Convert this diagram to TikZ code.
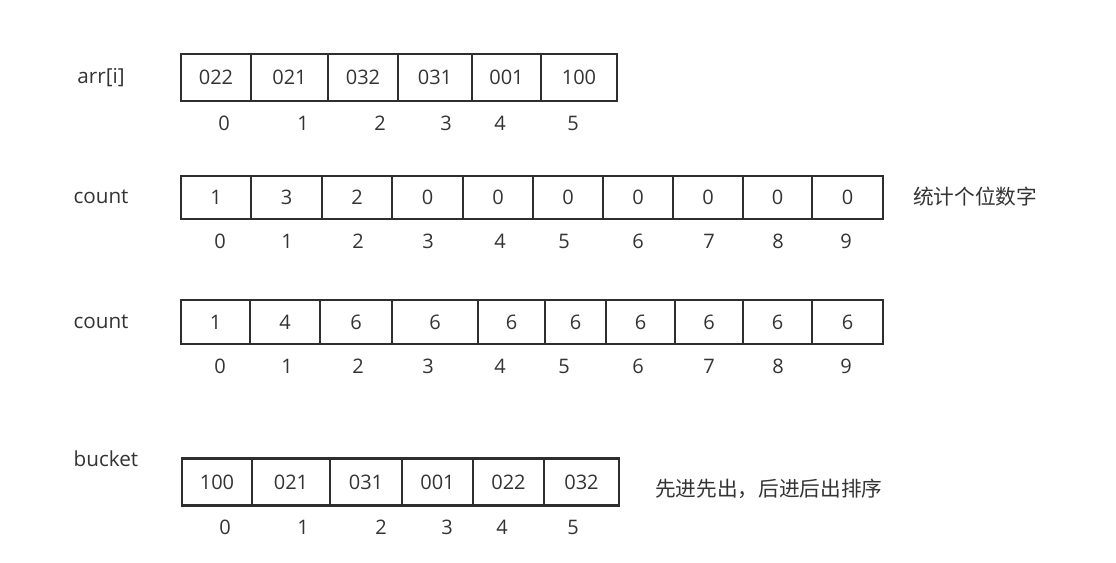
\documentclass[tikz,border=0pt]{standalone}
\usepackage{fontspec}
\setmainfont{Open Sans}
\newfontfamily\cjk{Noto Sans CJK SC}
\definecolor{ink}{HTML}{2E2E2E}
\definecolor{txt}{HTML}{333333}
\begin{document}
\begin{tikzpicture}[x=0.75pt,y=-0.75pt,
  cell/.style={draw=ink,line width=2.2pt,inner sep=0pt,text=txt,text height=10.7pt,text depth=0pt,font=\fontsize{15}{17}\selectfont},
  idx/.style={inner sep=0pt,text=txt,text height=10.7pt,text depth=0pt,font=\fontsize{15}{17}\selectfont},
  lbl/.style={inner sep=0pt,text=txt,font=\fontsize{15.5}{17}\selectfont},
  note/.style={inner sep=0pt,anchor=west,text=txt,font=\cjk\fontsize{15.5}{17}\selectfont}]
\useasboundingbox (0,0) rectangle (1116,562);
% row 1
\foreach \a/\b/\t [count=\i] in {181/251/022,251/328/021,328/398/032,398/472/031,472/541/001,541/617/100}
  \node[cell,minimum width={(\b-\a)*0.75pt},minimum height={47*0.75pt}] (a\i) at ({(\a+\b)/2},77.5) {\t};
\foreach \x/\t [count=\i] in {224/0,303/1,380/2,446/3,500/4,573/5}
  \node[idx] (ai\i) at (\x,123) {\t};
\node[lbl] (larr) at (101,78) {arr[i]};
% row 2
\foreach \a/\b/\t [count=\i] in {181/251/1,251/322/3,322/392/2,392/463/0,463/533/0,533/603/0,603/673/0,673/743/0,743/812/0,812/883/0}
  \node[cell,minimum width={(\b-\a)*0.75pt},minimum height={43*0.75pt}] (c\i) at ({(\a+\b)/2},197.5) {\t};
\foreach \x/\t [count=\i] in {220/0,287/1,358/2,428/3,500/4,564/5,638/6,709/7,778/8,846/9}
  \node[idx] (ci\i) at (\x,241) {\t};
\node[lbl] (lc1) at (101,197) {count};
\node[note] (n1) at (913,197) {统计个位数字};
% row 3
\foreach \a/\b/\t [count=\i] in {181/250/1,250/320/4,320/392/6,392/478/6,478/545/6,545/606/6,606/675/6,675/743/6,743/812/6,812/883/6}
  \node[cell,minimum width={(\b-\a)*0.75pt},minimum height={44*0.75pt}] (d\i) at ({(\a+\b)/2},322) {\t};
\foreach \x/\t [count=\i] in {220/0,287/1,358/2,428/3,500/4,564/5,638/6,709/7,778/8,846/9}
  \node[idx] (di\i) at (\x,366) {\t};
\node[lbl] (lc2) at (101,322) {count};
% row 4
\foreach \a/\b/\t [count=\i] in {182/252/100,252/330/021,330/402/031,402/473/001,473/544/022,544/619/032}
  \node[cell,minimum width={(\b-\a)*0.75pt},minimum height={47*0.75pt}] (b\i) at ({(\a+\b)/2},482) {\t};
\foreach \x/\t [count=\i] in {225/0,303/1,381/2,447/3,502/4,573/5}
  \node[idx] (bi\i) at (\x,527) {\t};
\node[lbl] (lb) at (106,459) {bucket};
\node[note] (n2) at (655,489) {先进先出，后进后出排序};
\end{tikzpicture}
\end{document}
